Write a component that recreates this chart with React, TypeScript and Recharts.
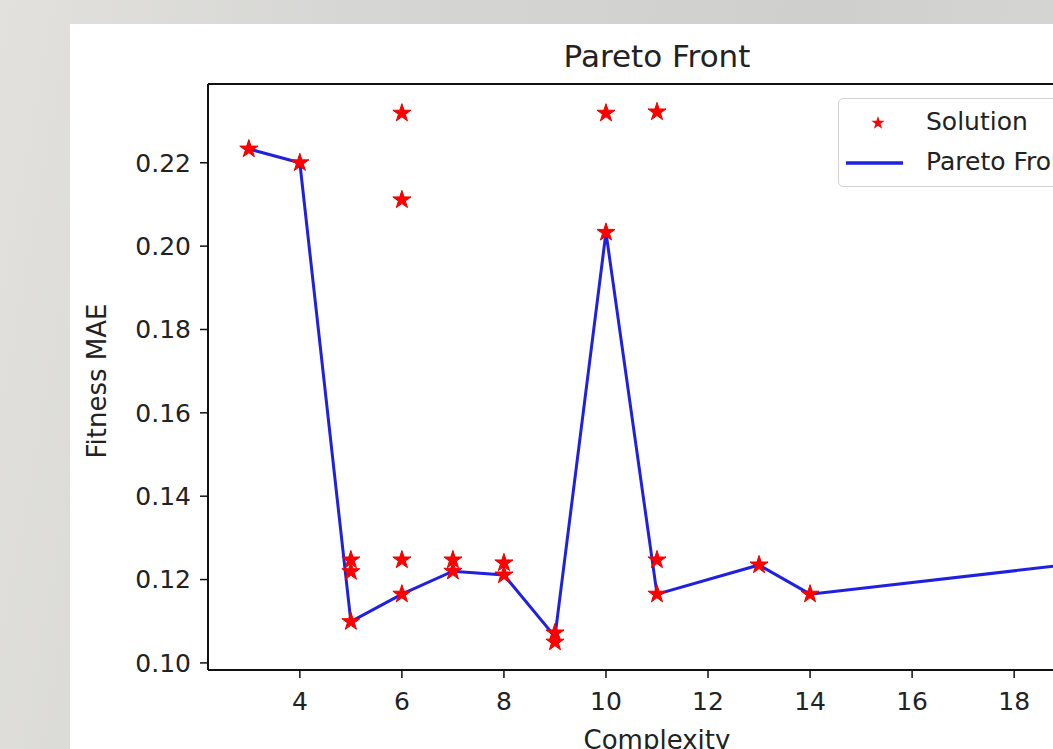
import React from 'react';
import { ComposedChart, Scatter, Line, XAxis, YAxis, ReferenceLine, Legend } from 'recharts';

// solutions (complexity, fitness MAE)
const solutionX = [3, 4, 5, 5, 5, 6, 6, 6, 6, 7, 7, 8, 8, 9, 9, 10, 10, 11, 11, 11, 13, 14, 19];
const solutionY = [
  0.2233, 0.22, 0.1247, 0.1219, 0.1099, 0.2319, 0.2111, 0.1247, 0.1165, 0.1247, 0.122, 0.124,
  0.1211, 0.1072, 0.105, 0.2319, 0.2033, 0.2322, 0.1247, 0.1165, 0.1235, 0.1165, 0.1235,
];

// pareto front
const paretoX = [3, 4, 5, 6, 7, 8, 9, 10, 11, 13, 14, 19];
const paretoY = [0.2233, 0.22, 0.1099, 0.1165, 0.122, 0.1211, 0.1063, 0.2033, 0.1165, 0.1235, 0.1165, 0.1235];

const xTicks = [4, 6, 8, 10, 12, 14, 16, 18];
const yTicks = [0.1, 0.12, 0.14, 0.16, 0.18, 0.2, 0.22];

const solutions = solutionX.map((x, i) => ({ x, y: solutionY[i] }));
const pareto = paretoX.map((x, i) => ({ x, y: paretoY[i] }));

const FONT = '"DejaVu Sans", sans-serif';
const Y_MIN = 0.0983;
const Y_MAX = 0.2389;

function starPath(cx: number, cy: number, R: number) {
  const r = R * 0.382;
  let d = '';
  for (let k = 0; k < 10; k++) {
    const rad = k % 2 === 0 ? R : r;
    const a = ((-90 + k * 36) * Math.PI) / 180;
    d += (k === 0 ? 'M' : 'L') + (cx + rad * Math.cos(a)).toFixed(2) + ',' + (cy + rad * Math.sin(a)).toFixed(2);
  }
  return d + 'Z';
}

const Star = (props: any) => {
  const { cx, cy } = props;
  if (cx == null || cy == null) return null;
  return <path d={starPath(cx, cy, 9.5)} fill="#ff0000" stroke="#ee0000" strokeWidth={1} />;
};

const renderLegend = () => (
  <div
    style={{
      width: 300,
      height: 87,
      border: '1px solid #d2d2d2',
      borderRadius: 5,
      background: 'rgba(255,255,255,0.85)',
      fontFamily: FONT,
      fontSize: 25,
      color: '#222',
      position: 'relative',
    }}
  >
    <svg width={70} height={87} style={{ position: 'absolute', left: 0, top: 0 }}>
      <path d={starPath(39, 24, 7)} fill="#ff0000" />
      <line x1={7} x2={64} y1={64} y2={64} stroke="#2020e0" strokeWidth={3.5} />
    </svg>
    <div style={{ position: 'absolute', left: 87, top: 8, lineHeight: '30px' }}>Solution</div>
    <div style={{ position: 'absolute', left: 87, top: 48, lineHeight: '30px' }}>Pareto Front</div>
  </div>
);

export default function App() {
  return (
    <div
      style={{
        position: 'absolute',
        left: 0,
        top: 0,
        width: 1053,
        height: 749,
        overflow: 'hidden',
        background: 'linear-gradient(100deg, #e2e1dd 0%, #d6d6d4 30%, #cfcfcd 70%, #d8d8d6 100%)',
      }}
    >
      <div style={{ position: 'absolute', left: 70, top: 24, right: 0, bottom: 0, background: '#ffffff' }} />
      <div
        style={{
          position: 'absolute',
          left: 657,
          top: 41,
          transform: 'translateX(-50%)',
          fontFamily: FONT,
          fontSize: 31,
          lineHeight: '31px',
          color: '#222',
          whiteSpace: 'nowrap',
        }}
      >
        Pareto Front
      </div>
      <div style={{ position: 'absolute', left: 0, top: 0 }}>
        <ComposedChart width={1200} height={749} margin={{ top: 84, right: 94, left: 0, bottom: 0 }}>
          <XAxis
            type="number"
            dataKey="x"
            domain={[2.2, 19.8]}
            ticks={xTicks}
            height={79}
            allowDataOverflow
            axisLine={{ stroke: '#111', strokeWidth: 2 }}
            tickLine={{ stroke: '#111', strokeWidth: 1.5 }}
            tickSize={8}
            tick={{ fontFamily: FONT, fontSize: 25, fill: '#222', dy: 12 }}
            label={{ value: 'Complexity', position: 'insideBottom', offset: 0, fontFamily: FONT, fontSize: 26, fill: '#222' }}
          />
          <YAxis
            type="number"
            dataKey="y"
            domain={[Y_MIN, Y_MAX]}
            ticks={yTicks}
            width={208}
            allowDataOverflow
            axisLine={{ stroke: '#111', strokeWidth: 2 }}
            tickLine={{ stroke: '#111', strokeWidth: 1.5 }}
            tickSize={8}
            tickFormatter={(v: number) => v.toFixed(2)}
            tick={{ fontFamily: FONT, fontSize: 25, fill: '#222', dx: -7 }}
            label={{
              content: () => (
                <text
                  x={97}
                  y={381}
                  transform="rotate(-90 97 381)"
                  textAnchor="middle"
                  dominantBaseline="central"
                  fontFamily={FONT}
                  fontSize={26}
                  fill="#222"
                >
                  Fitness MAE
                </text>
              ),
            }}
          />
          <ReferenceLine y={Y_MAX} stroke="#111" strokeWidth={2} />
          <Legend
            content={renderLegend}
            layout="vertical"
            align="center"
            verticalAlign="middle"
            wrapperStyle={{ left: 838, top: 98, width: 300 }}
          />
          <Scatter data={solutions} dataKey="y" name="Solution" shape={<Star />} isAnimationActive={false} />
          <Line
            data={pareto}
            dataKey="y"
            name="Pareto Front"
            type="linear"
            stroke="#2020e0"
            strokeWidth={3}
            dot={false}
            activeDot={false}
            isAnimationActive={false}
          />
        </ComposedChart>
      </div>
    </div>
  );
}
